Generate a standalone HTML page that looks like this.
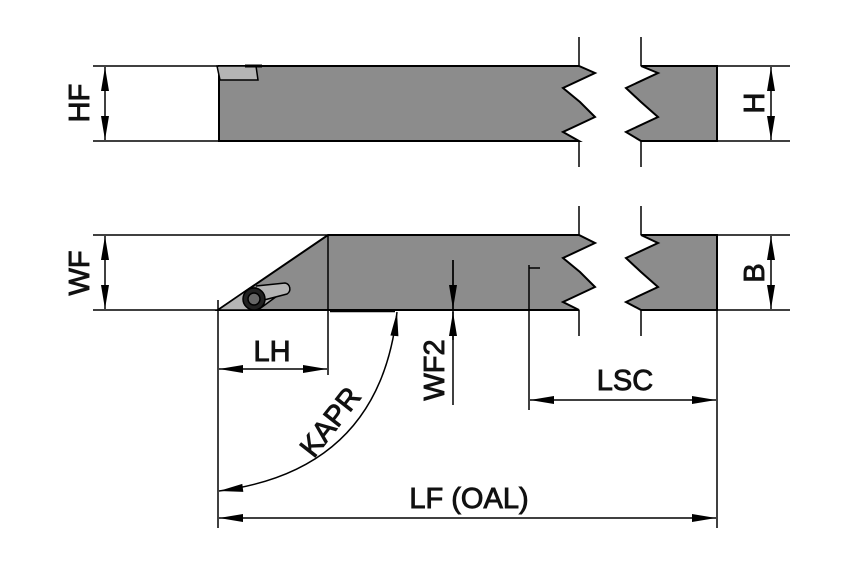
<!DOCTYPE html>
<html><head><style>
body{margin:0;background:#fff}
svg{display:block}
text{font-family:"Liberation Sans",sans-serif;font-size:29px;fill:#111;stroke:#111;stroke-width:0.9px}
</style></head><body>
<svg width="850" height="567" viewBox="0 0 850 567">
<g stroke="#000" stroke-width="1.5" fill="none">
<path d="M219,66 L579,66 L595,73 L563,88 L580,102 L595,117 L563,132 L579,141 L219,141 Z" fill="#8c8c8c" stroke-width="2"/>
<path d="M641,66 L717,66 L717,141 L641,141 L626,132 L658,117 L641,102 L626,88 L658,73 Z" fill="#8c8c8c" stroke-width="2"/>
<path d="M217,66 L256,66 L258,80 L220,80 Z" fill="#b5b5b5"/>
<path d="M245,66 L262,66" stroke-width="3"/>
<path d="M579,37V66M579,141V167M641,37V66M641,141V167"/>
<path d="M218,310 L328,235 L579,235 L595,243 L563,258 L580,272 L595,287 L563,302 L579,310 Z" fill="#8c8c8c" stroke-width="2"/>
<path d="M641,235 L717,235 L717,310 L641,310 L626,302 L658,287 L641,272 L626,258 L658,243 Z" fill="#8c8c8c" stroke-width="2"/>
<path d="M328,235V310"/>
<path d="M218,310 L250,288 L288,288 L258,310 Z" fill="#b5b5b5"/>
<path d="M256,286 L285,283 A6,6 0 0 1 287,294 L264,300" fill="#b5b5b5"/>
<circle cx="254" cy="299" r="11" fill="#222"/>
<circle cx="254" cy="299" r="6" fill="#666"/>
<path d="M330,311H395" stroke-width="2.5"/>
<path d="M579,206V235M579,310V336M641,206V235M641,310V336"/>
<path d="M93,66H219M93,141H219M93,235H328M93,310H219"/>
<path d="M717,66H790M717,141H790M717,235H790M717,310H790"/>
<path d="M218,300V528M328,310V375M717,310V528M529,265V410M529,268H540M453,260V405"/>
<path d="M105,67V140M771,67V140M105,236V309M771,236V309"/>
<path d="M219,369H327M530,400H716M219,518H716M453,260V309M453,312V340"/>
<path d="M219,491 Q380,470 397,312"/>
</g>
<g fill="#000">
<polygon points="105,67 101,91 109,91"/><polygon points="105,140 101,116 109,116"/>
<polygon points="771,67 767,91 775,91"/><polygon points="771,140 767,116 775,116"/>
<polygon points="105,236 101,260 109,260"/><polygon points="105,309 101,285 109,285"/>
<polygon points="771,236 767,260 775,260"/><polygon points="771,309 767,285 775,285"/>
<polygon points="219,369 243,365 243,373"/><polygon points="327,369 303,365 303,373"/>
<polygon points="530,400 554,396 554,404"/><polygon points="716,400 692,396 692,404"/>
<polygon points="219,518 243,514 243,522"/><polygon points="716,518 692,514 692,522"/>
<polygon points="453,309 449,285 457,285"/><polygon points="453,312 449,336 457,336"/>
<polygon points="397,312 398.4,336.3 390.4,335.5"/>
<polygon points="219,491 243.3,491.9 242.3,483.9"/>
</g>
<text x="0" y="0" transform="translate(89,103) rotate(-90)" text-anchor="middle">HF</text>
<text x="0" y="0" transform="translate(89,273) rotate(-90)" text-anchor="middle">WF</text>
<text x="0" y="0" transform="translate(764,103) rotate(-90)" text-anchor="middle">H</text>
<text x="0" y="0" transform="translate(764,273) rotate(-90)" text-anchor="middle">B</text>
<text x="272" y="361" text-anchor="middle">LH</text>
<text x="0" y="0" transform="translate(444,370) rotate(-90)" text-anchor="middle">WF2</text>
<text x="625" y="390" text-anchor="middle">LSC</text>
<text x="469" y="508" text-anchor="middle">LF (OAL)</text>
<text x="0" y="0" transform="translate(338,428) rotate(-52)" text-anchor="middle">KAPR</text>
</svg>
</body></html>
